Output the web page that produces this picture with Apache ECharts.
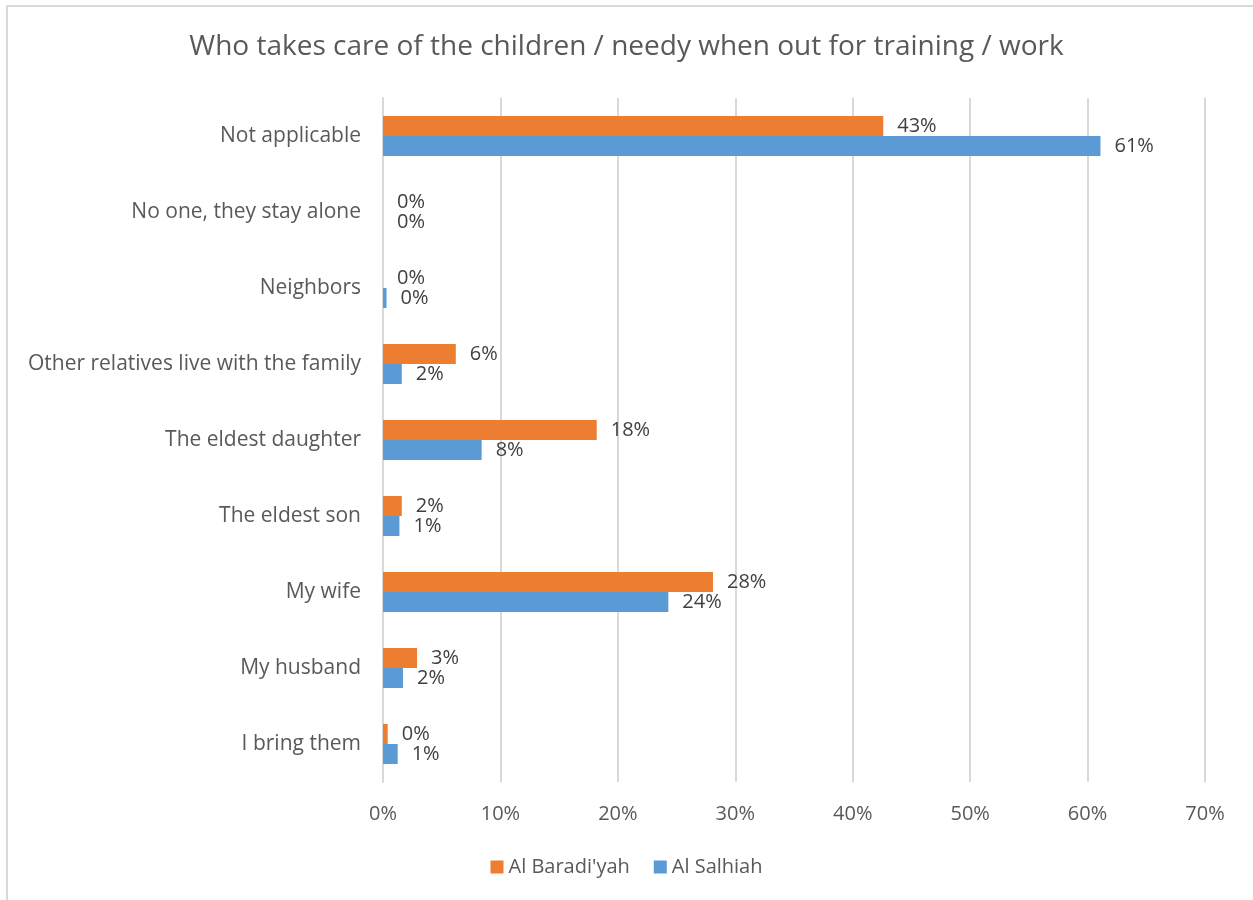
<!DOCTYPE html>
<html>
<head>
<meta charset="utf-8">
<script src="https://cdn.jsdelivr.net/npm/echarts@6/dist/echarts.min.js"></script>
<style>
  html, body { margin: 0; padding: 0; background: #fff; }
  #frame {
    position: absolute; left: 6px; top: 5px; width: 1247px; height: 895px;
    border-top: 2px solid #d9d9d9; border-left: 2px solid #d9d9d9; box-sizing: border-box;
  }
  #chart { position: absolute; left: 0; top: 0; width: 1253px; height: 900px; }
</style>
</head>
<body>
<div id="frame"></div>
<div id="chart"></div>
<script>
const categories = [
  'Not applicable',
  'No one, they stay alone',
  'Neighbors',
  'Other relatives live with the family',
  'The eldest daughter',
  'The eldest son',
  'My wife',
  'My husband',
  'I bring them',
]
const baradiyah = [42.6, 0, 0, 6.2, 18.2, 1.6, 28.1, 2.9, 0.4]
const salhiah = [61.1, 0, 0.3, 1.6, 8.4, 1.4, 24.3, 1.7, 1.25]
const xTicks = [0, 10, 20, 30, 40, 50, 60, 70]

const FONT = '"Open Sans", sans-serif'

const chart = echarts.init(document.getElementById('chart'))

const labelOpt = {
  show: true,
  position: 'right',
  distance: 14,
  color: '#404040',
  fontSize: 20,
  fontFamily: FONT,
  formatter: (p) => Math.round(p.value) + '%',
}

chart.setOption({
  animation: false,
  title: {
    text: 'Who takes care of the children / needy when out for training / work',
    left: 'center',
    top: 28,
    textStyle: { color: '#595959', fontSize: 28, fontWeight: 'normal', fontFamily: FONT },
  },
  legend: {
    bottom: 18,
    left: 'center',
    itemWidth: 13,
    itemHeight: 13,
    itemGap: 24,
    icon: 'rect',
    textStyle: { color: '#595959', fontSize: 20, fontFamily: FONT },
    data: ["Al Baradi'yah", 'Al Salhiah'],
  },
  grid: { left: 383, right: 48, top: 98, bottom: 118, containLabel: false },
  xAxis: {
    type: 'value',
    min: 0,
    max: 70,
    interval: 10,
    axisLine: { show: false },
    axisTick: { show: false },
    splitLine: { lineStyle: { color: '#d9d9d9', width: 2 } },
    axisLabel: {
      color: '#595959',
      fontSize: 20,
      fontFamily: FONT,
      margin: 22,
      formatter: (v) => (xTicks.includes(v) ? v + '%' : ''),
    },
  },
  yAxis: {
    type: 'category',
    inverse: true,
    data: categories,
    axisLine: { show: true, lineStyle: { color: '#d9d9d9', width: 2 } },
    axisTick: { show: false },
    axisLabel: { color: '#595959', fontSize: 21, fontFamily: FONT, margin: 22 },
  },
  series: [
    {
      name: "Al Baradi'yah",
      type: 'bar',
      data: baradiyah,
      barWidth: 20,
      barGap: '0%',
      itemStyle: { color: '#ed7d31' },
      label: labelOpt,
    },
    {
      name: 'Al Salhiah',
      type: 'bar',
      data: salhiah,
      barWidth: 20,
      barGap: '0%',
      itemStyle: { color: '#5b9bd5' },
      label: labelOpt,
    },
  ],
})
</script>
</body>
</html>
